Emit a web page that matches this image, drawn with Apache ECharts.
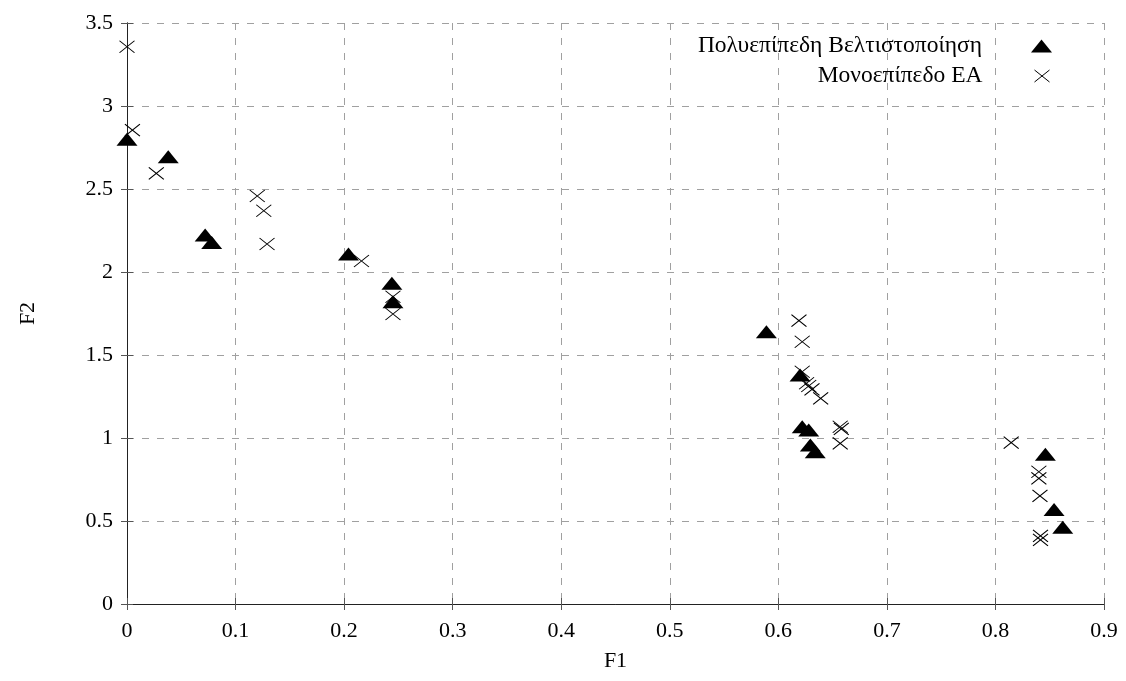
<!DOCTYPE html>
<html>
<head>
<meta charset="utf-8">
<script src="https://cdn.jsdelivr.net/npm/echarts@6/dist/echarts.min.js"></script>
<style>html,body{margin:0;padding:0;background:#fff}#c{width:1126px;height:681px}</style>
</head>
<body>
<div id="c"></div>
<script>
const multiName = 'Πολυεπίπεδη Βελτιστοποίηση';
const singleName = 'Μονοεπίπεδο ΕΑ';
const xTicks = [0, 0.1, 0.2, 0.3, 0.4, 0.5, 0.6, 0.7, 0.8, 0.9];
const yTicks = [0, 0.5, 1, 1.5, 2, 2.5, 3, 3.5];
const multiF1 = [0, 0.038, 0.072, 0.078, 0.204, 0.244, 0.245, 0.589, 0.620, 0.622, 0.628, 0.6295, 0.634, 0.846, 0.854, 0.862];
const multiF2 = [2.80, 2.695, 2.223, 2.177, 2.108, 1.932, 1.821, 1.640, 1.380, 1.068, 1.048, 0.958, 0.917, 0.902, 0.570, 0.462];
const singleF1 = [0, 0.005, 0.027, 0.120, 0.126, 0.129, 0.216, 0.245, 0.245, 0.619, 0.622, 0.622, 0.626, 0.628, 0.631, 0.639, 0.657, 0.658, 0.657, 0.8145, 0.840, 0.840, 0.841, 0.8415, 0.8415];
const singleF2 = [3.357, 2.855, 2.594, 2.458, 2.369, 2.169, 2.066, 1.851, 1.747, 1.707, 1.580, 1.399, 1.33, 1.313, 1.293, 1.239, 1.068, 1.055, 0.968, 0.972, 0.797, 0.757, 0.651, 0.41, 0.386];

const font = 'Liberation Serif';
const crossPath = 'path://M0,0L15,12M15,0L0,12';
const multiData = multiF1.map((v, i) => [v, multiF2[i]]);
const singleData = singleF1.map((v, i) => [v, singleF2[i]]);

const baseAxis = {
  axisLine: { show: true, lineStyle: { color: '#222', width: 1 } },
  axisTick: { show: true, inside: true, length: 6, lineStyle: { color: '#555' } },
  splitLine: { show: false },
  axisLabel: { show: false }
};

const chart = echarts.init(document.getElementById('c'));
chart.setOption({
  animation: false,
  backgroundColor: '#fff',
  grid: { left: 127, right: 22, top: 23, bottom: 77 },
  xAxis: [
    Object.assign({}, baseAxis, {
      type: 'value', min: 0, max: 0.9, interval: 0.1, position: 'bottom',
      name: 'F1', nameLocation: 'middle', nameGap: 46,
      nameTextStyle: { fontFamily: font, fontSize: 22, color: '#000' },
      axisLabel: { show: true, fontFamily: font, fontSize: 22, color: '#000', margin: 16,
        formatter: v => { const t = xTicks.find(k => Math.abs(k - v) < 1e-9); return t === undefined ? '' : String(t); } },
      splitLine: { show: true, lineStyle: { color: '#a0a0a0', type: [7, 8], width: 1 } }
    }),
    Object.assign({}, baseAxis, { type: 'value', min: 0, max: 0.9, interval: 0.1, position: 'top' })
  ],
  yAxis: [
    Object.assign({}, baseAxis, {
      type: 'value', min: 0, max: 3.5, interval: 0.5, position: 'left',
      name: 'F2', nameLocation: 'middle', nameGap: 88, nameRotate: 90,
      nameTextStyle: { fontFamily: font, fontSize: 22, color: '#000' },
      axisLabel: { show: true, fontFamily: font, fontSize: 22, color: '#000', margin: 14,
        formatter: v => { const t = yTicks.find(k => Math.abs(k - v) < 1e-9); return t === undefined ? '' : String(t); } },
      splitLine: { show: true, lineStyle: { color: '#a0a0a0', type: [7, 8], width: 1 } }
    }),
    Object.assign({}, baseAxis, { type: 'value', min: 0, max: 3.5, interval: 0.5, position: 'right' })
  ],
  legend: [
    { data: [{ name: multiName, icon: 'triangle' }], orient: 'vertical', align: 'right',
      right: 69, top: 29, itemWidth: 21, itemHeight: 13, selectedMode: false,
      textStyle: { fontFamily: font, fontSize: 23.5, color: '#000', padding: [0, 44, 0, 0] } },
    { data: [{ name: singleName, icon: crossPath, itemStyle: { color: 'none', borderColor: '#000', borderWidth: 1 } }], orient: 'vertical', align: 'right',
      right: 69, top: 59, itemWidth: 15, itemHeight: 12, selectedMode: false,
      textStyle: { fontFamily: font, fontSize: 23.5, color: '#000', padding: [0, 47, 0, 0] } }
  ],
  series: [
    { name: multiName, type: 'scatter', data: multiData, symbol: 'triangle', symbolSize: [21, 13],
      itemStyle: { color: '#000', opacity: 1 }, z: 3 },
    { name: singleName, type: 'scatter', data: singleData, symbol: crossPath, symbolSize: [15, 12],
      itemStyle: { color: 'none', borderColor: '#000', borderWidth: 1, opacity: 1 }, z: 4 }
  ]
});
</script>
</body>
</html>
